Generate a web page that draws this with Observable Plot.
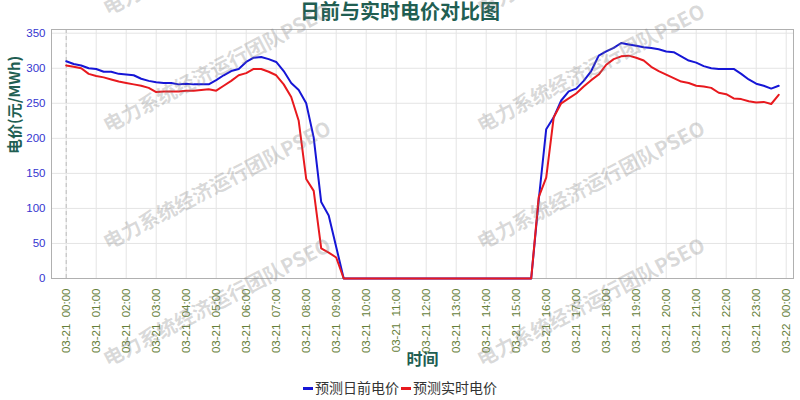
<!DOCTYPE html>
<html>
<head>
<meta charset="utf-8">
<script src="https://cdn.jsdelivr.net/npm/d3@7"></script>
<script src="https://cdn.jsdelivr.net/npm/@observablehq/plot@0.6"></script>
<style>
  html, body { margin: 0; padding: 0; background: #fff; }
  #wrap { position: relative; width: 800px; height: 400px; overflow: hidden; background: #fff; }
  #title { position: absolute; left: 0; top: 0; width: 800px; text-align: center;
    font-family: "Noto Sans CJK SC", sans-serif; font-weight: bold; font-size: 20px; line-height: 22px; color: #215e52; }
  #chart { position: absolute; left: 0; top: 0; }
  #legend { position: absolute; left: 0; top: 377px; width: 800px; text-align: center;
    font-family: "Noto Sans CJK SC", sans-serif; font-size: 14px; line-height: 20px; color: #333; }
  #legend .item { display: inline-block; margin: 0 1px; }
  #legend .sw { display: inline-block; width: 10px; height: 3px; vertical-align: middle; margin-right: 2px; position: relative; top: -1px; }
  #wm { position: absolute; left: 0; top: 0; pointer-events: none; }
</style>
</head>
<body>
<div id="wrap">
  <div id="chart"></div>
  <div id="title"></div>
  <div id="legend"></div>
  <svg id="wm" width="800" height="400"></svg>
</div>
<script>
// ---- data (15-minute intervals, 03-21 00:00 .. 23:45) ----
const titleText = "日前与实时电价对比图";
const yLabel = "电价(元/MWh)";
const xLabel = "时间";
const seriesNames = ["预测日前电价", "预测实时电价"];
const seriesColors = ["#1616d6", "#e8191e"];
const watermarkText = "电力系统经济运行团队PSEO";

const dayAhead = [
  310,306,304,300,299,295,295,292,291,290,285,282,280,279,279,277,278,277,277,277,
  283,290,296,299,309,315,316,313,309,296,279,269,250,201,109,90,45,0,
  0,0,0,0,0,0,0,0,0,0,0,0,0,0,0,0,0,0,0,0,0,0,0,0,0,
  112,
  213,230,254,267,271,282,296,318,324,329,336,334,332,330,329,327,324,323,317,311,
  308,303,300,299,299,299,292,284,278,275,271,275
];
const realTime = [
  304,302,300,292,289,287,284,281,279,277,275,272,266,267,267,267,268,268,269,270,
  268,275,282,290,293,299,299,295,290,277,259,225,142,125,43,37,30,0,
  0,0,0,0,0,0,0,0,0,0,0,0,0,0,0,0,0,0,0,0,0,0,0,0,0,
  116,
  144,230,250,257,264,274,283,291,305,313,317,318,315,311,302,296,291,286,281,279,
  275,274,272,265,263,257,256,253,251,252,249,262
];
const hourTicks = [0,1,2,3,4,5,6,7,8,9,10,11,12,13,14,15,16,17,18,19,20,21,22,23,24];
const tickLabels = [
  "03-21  00:00","03-21  01:00","03-21  02:00","03-21  03:00","03-21  04:00","03-21  05:00",
  "03-21  06:00","03-21  07:00","03-21  08:00","03-21  09:00","03-21  10:00","03-21  11:00",
  "03-21  12:00","03-21  13:00","03-21  14:00","03-21  15:00","03-21  16:00","03-21  17:00",
  "03-21  18:00","03-21  19:00","03-21  20:00","03-21  21:00","03-21  22:00","03-21  23:00",
  "03-22  00:00"
];
const yTicks = [0,50,100,150,200,250,300,350];

// ---- build ----
const step = 0.25; // hours per sample
const toRows = (arr, name) => arr.map((v, i) => ({t: i * step, v, name}));
const rows = toRows(dayAhead, seriesNames[0]).concat(toRows(realTime, seriesNames[1]));

const cjk = "Noto Sans CJK SC, sans-serif";
const chart = Plot.plot({
  width: 800,
  height: 380,
  marginTop: 29,
  marginBottom: 102,
  marginLeft: 51,
  marginRight: 7,
  style: {fontFamily: "Liberation Sans, Arial, sans-serif", background: "transparent", overflow: "visible"},
  x: {domain: [-0.49, 24.243]},
  y: {domain: [0, 355.3]},
  color: {domain: seriesNames, range: seriesColors},
  marks: [
    Plot.gridX(hourTicks, {stroke: "#e4e4e4", strokeOpacity: 1}),
    Plot.gridY(yTicks, {stroke: "#e4e4e4", strokeOpacity: 1}),
    Plot.ruleX([0], {stroke: "#bdbdbd", strokeDasharray: "4,3"}),
    Plot.frame({stroke: "#b0b0b0"}),
    Plot.line(rows, {x: "t", y: "v", z: "name", stroke: "name", strokeWidth: 2}),
    Plot.axisY({ticks: yTicks, tickSize: 0, tickPadding: 6, fill: "#3535d0", fontSize: 11.5, label: null}),
    Plot.axisX({ticks: hourTicks, tickFormat: d => tickLabels[hourTicks.indexOf(d)], tickRotate: -90,
      tickSize: 0, tickPadding: 10, fill: "#66803a", fontSize: 11.5, label: null}),
    Plot.text([yLabel], {text: d => d, frameAnchor: "left", dx: -36, rotate: -90, fill: "#215e52",
      fontWeight: "bold", fontSize: 15, fontFamily: cjk}),
    Plot.text([xLabel], {text: d => d, frameAnchor: "bottom", dy: 86, fill: "#215e52",
      fontWeight: "bold", fontSize: 16, fontFamily: cjk})
  ]
});
document.getElementById("chart").appendChild(chart);
document.getElementById("title").textContent = titleText;

// legend
const legend = document.getElementById("legend");
seriesNames.forEach((n, i) => {
  const item = document.createElement("span");
  item.className = "item";
  const sw = document.createElement("span");
  sw.className = "sw";
  sw.style.background = seriesColors[i];
  item.appendChild(sw);
  item.appendChild(document.createTextNode(n));
  legend.appendChild(item);
});

// watermark
const wm = d3.select("#wm");
const wmX = [108, 482];
const wmY = [16, 133, 250, 367];
wmX.forEach(x => wmY.forEach(y => {
  wm.append("text")
    .attr("x", x).attr("y", y)
    .attr("transform", `rotate(-27.5 ${x} ${y})`)
    .attr("font-family", cjk)
    .attr("font-weight", "bold")
    .attr("font-size", 20)
    .attr("fill", "rgba(120,120,120,0.28)")
    .text(watermarkText);
}));
</script>
</body>
</html>
